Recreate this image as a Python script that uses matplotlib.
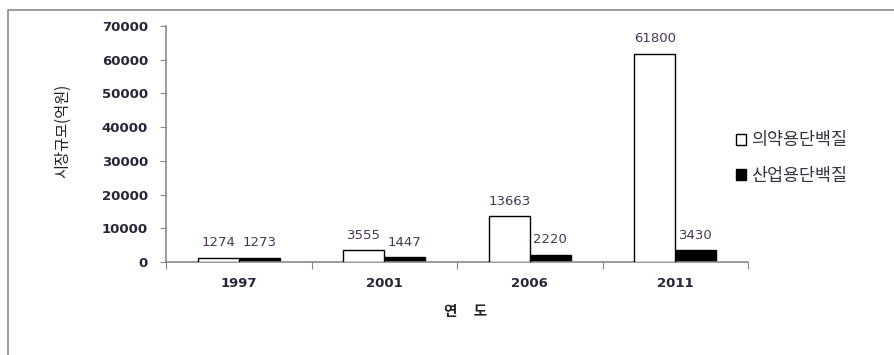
import matplotlib
matplotlib.use("Agg")
import matplotlib.pyplot as plt
from matplotlib.patches import Rectangle

plt.rcParams['font.family'] = ['Noto Sans CJK KR', 'DejaVu Sans']

years = ['1997', '2001', '2006', '2011']
pharma = [1274, 3555, 13663, 61800]      # 의약용단백질
industrial = [1273, 1447, 2220, 3430]   # 산업용단백질
series_names = ['의약용단백질', '산업용단백질']
y_ticks = [0, 10000, 20000, 30000, 40000, 50000, 60000, 70000]

W, H = 894, 355
fig = plt.figure(figsize=(W / 100, H / 100), dpi=100)

# chart-area frame
fig.patches.append(Rectangle((8 / W, -0.1), 1.1, (H - 10) / H + 0.1,
                             transform=fig.transFigure, fill=False,
                             edgecolor='#8a8a8a', linewidth=1.2))

ax = fig.add_axes([166 / W, 93 / H, (748 - 166) / W, 236 / H])

x = range(len(years))
bw = 0.282
b1 = ax.bar([i - bw / 2 for i in x], pharma, bw, color='white',
            edgecolor='black', linewidth=1.0, label=series_names[0], zorder=3)
b2 = ax.bar([i + bw / 2 for i in x], industrial, bw, color='black',
            edgecolor='black', linewidth=1.0, label=series_names[1], zorder=2)

lab_color = '#4a3656'
for bars, vals in ((b1, pharma), (b2, industrial)):
    for rect, v in zip(bars, vals):
        ax.annotate(f'{v}', (rect.get_x() + rect.get_width() / 2, v),
                    xytext=(0, 6), textcoords='offset points',
                    ha='center', va='bottom', fontsize=9.5,
                    color=lab_color, family=['DejaVu Sans'], zorder=1)

ax.set_xlim(-0.5, len(years) - 0.5)
ax.set_ylim(0, 70000)
ax.set_yticks(y_ticks)
ax.set_yticklabels([str(t) for t in y_ticks], fontsize=9.5,
                   fontweight='bold', color='#26263a', family=['DejaVu Sans'])
ax.tick_params(axis='y', direction='out', length=4, color='#8a8a8a', pad=9)

ax.set_xticks([i - 0.5 for i in range(len(years) + 1)])
ax.set_xticklabels([])
ax.tick_params(axis='x', which='major', direction='out', length=5, color='#8a8a8a')
ax.set_xticks(list(x), minor=True)
ax.set_xticklabels(years, minor=True, fontsize=9.5, fontweight='bold',
                   color='#26263a', family=['DejaVu Sans'])
ax.tick_params(axis='x', which='minor', length=0, pad=11)

for s in ('top', 'right'):
    ax.spines[s].set_visible(False)
for s in ('left', 'bottom'):
    ax.spines[s].set_color('#8a8a8a')
    ax.spines[s].set_linewidth(1.2)

fig.text(63 / W, 1 - 131 / H, '시장규모(억원)', rotation=90, ha='center',
         va='center', fontsize=11, color='#222222')
fig.text(466 / W, 1 - 311 / H, '연     도', ha='center', va='center',
         fontsize=10.5, color='#222222', fontweight='bold')

fig.legend(handles=[b1, b2], labels=series_names,
           loc='center left', bbox_to_anchor=(720 / W, 1 - 158 / H),
           frameon=False, fontsize=12.5, handlelength=0.6, handleheight=0.6,
           handletextpad=0.3, labelspacing=1.0, labelcolor='#333344')

fig.savefig('out.png', dpi=100)
